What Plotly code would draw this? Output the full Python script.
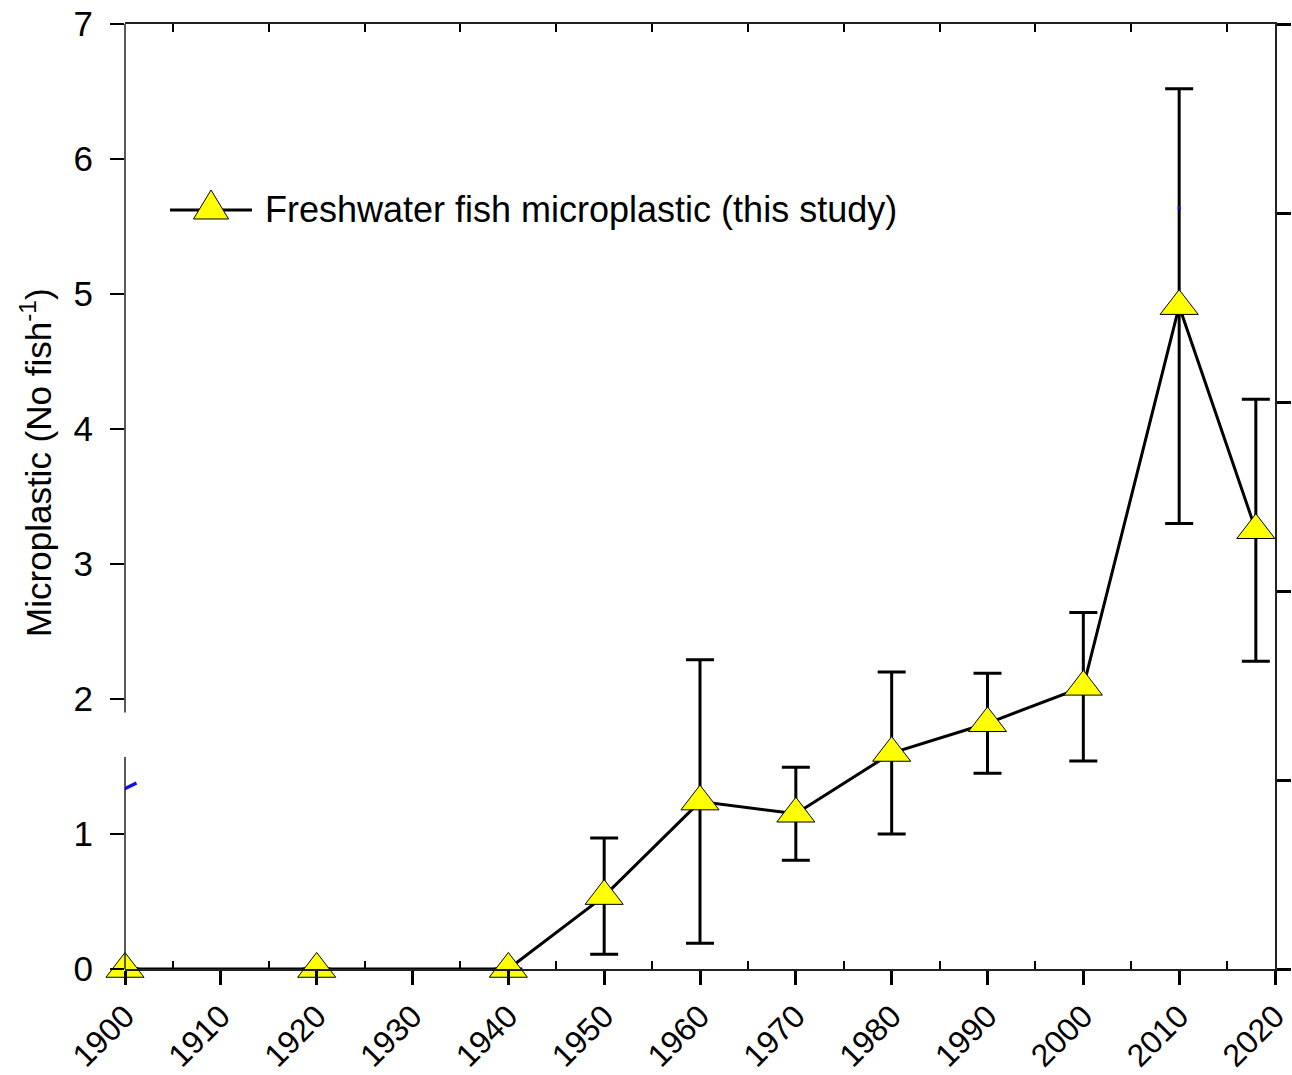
import plotly.graph_objects as go

# ---- data ----
years = [1900, 1920, 1940, 1950, 1960, 1970, 1980, 1990, 2000, 2010, 2018]
microplastic = [0, 0, 0, 0.54, 1.24, 1.15, 1.60, 1.82, 2.09, 4.91, 3.25]
error = [None, None, None, 0.43, 1.05, 0.345, 0.60, 0.37, 0.55, 1.61, 0.97]

x_ticks = list(range(1900, 2021, 10))
y_ticks = list(range(0, 8))

series_name = "Freshwater fish microplastic (this study)"
y_title = "Microplastic (No fish<sup>-1</sup>)"

# small blue stray marks visible in the original figure
stray_seg_x = [1899.7, 1901.2]
stray_seg_y = [1.326, 1.378]
stray_dot_x = [2010]
stray_dot_y = [5.64]

# left-axis break (value range where the left spine is interrupted)
axis_break = [1.57, 1.90]

FONT = "Arial, Liberation Sans, sans-serif"

fig = go.Figure()

fig.add_trace(go.Scatter(
    x=years, y=microplastic, mode="lines+markers", name=series_name,
    line=dict(color="black", width=3),
    marker=dict(symbol="triangle-up", size=33, color="#FFFF00",
                line=dict(color="black", width=1)),
    error_y=dict(type="data", array=error, visible=True, color="black",
                 thickness=3, width=14),
    cliponaxis=False, showlegend=False,
))

fig.add_trace(go.Scatter(
    x=stray_seg_x, y=stray_seg_y, mode="lines",
    line=dict(color="#1010ee", width=3.5), cliponaxis=False,
    showlegend=False, hoverinfo="skip"))
fig.add_trace(go.Scatter(
    x=stray_dot_x, y=stray_dot_y, mode="markers",
    marker=dict(color="#1010ee", size=3, symbol="square"), cliponaxis=False,
    showlegend=False, hoverinfo="skip"))

# dummy trace to activate the top / right mirror axes
fig.add_trace(go.Scatter(x=[x_ticks[0]], y=[0], xaxis="x2", yaxis="y2",
                         mode="markers", marker=dict(opacity=0),
                         showlegend=False, hoverinfo="skip"))

x_min, x_max = x_ticks[0], x_ticks[-1]
y_min, y_max = y_ticks[0], y_ticks[-1]

fig.update_layout(
    template="none",
    width=1292, height=1075,
    margin=dict(l=125, r=17, t=24, b=106, autoexpand=False),
    paper_bgcolor="white", plot_bgcolor="white",
    font=dict(family=FONT, size=34, color="black"),
    showlegend=False,
    xaxis=dict(
        range=[x_min, x_max], tickmode="array", tickvals=x_ticks,
        ticktext=[str(v) for v in x_ticks], tickangle=-45,
        ticks="outside", ticklen=14, tickwidth=2.5, tickcolor="black",
        showline=True, linecolor="#222", linewidth=1.5,
        showgrid=False, zeroline=False, automargin=False,
        tickfont=dict(size=32),
        minor=dict(tickmode="array",
                   tickvals=[v + 5 for v in x_ticks[:-1]],
                   ticks="inside", ticklen=8, tickwidth=1.5, tickcolor="black",
                   showgrid=False),
    ),
    xaxis2=dict(
        range=[x_min, x_max], overlaying="x", side="top", anchor="y",
        tickmode="array", tickvals=[v + 5 for v in x_ticks[:-1]],
        ticks="inside", ticklen=8, tickwidth=1.5, tickcolor="black",
        showticklabels=False, showline=True, linecolor="#222", linewidth=1.5,
        showgrid=False, zeroline=False, automargin=False,
    ),
    yaxis=dict(
        range=[y_min, y_max], tickmode="array", tickvals=y_ticks,
        ticks="outside", ticklen=14, tickwidth=1.5, tickcolor="black",
        showline=False, showgrid=False, zeroline=False, automargin=False,
        tickfont=dict(size=35), ticklabelstandoff=10,
    ),
    yaxis2=dict(
        range=[0, 5], overlaying="y", side="right", anchor="x",
        tickmode="linear", tick0=0, dtick=1,
        ticks="outside", ticklen=14, tickwidth=2.5, tickcolor="black",
        showticklabels=False, showline=True, linecolor="#222", linewidth=1.5,
        showgrid=False, zeroline=False, automargin=False,
    ),
)

# left spine with a break
fig.add_shape(type="line", xref="paper", yref="y", x0=0, x1=0,
              y0=y_min, y1=axis_break[0], line=dict(color="#222", width=1.5))
fig.add_shape(type="line", xref="paper", yref="y", x0=0, x1=0,
              y0=axis_break[1], y1=y_max, line=dict(color="#222", width=1.5))

# legend (drawn manually to keep the large symbol)
leg_y = 0.8032
fig.add_shape(type="line", xref="paper", yref="paper", x0=0.0391, x1=0.1104,
              y0=leg_y, y1=leg_y, line=dict(color="black", width=3))
fig.add_shape(type="path", xref="paper", yref="paper",
              xsizemode="pixel", ysizemode="pixel",
              xanchor=0.0748, yanchor=leg_y,
              path="M -17.5,-9 L 17.5,-9 L 0,20 Z",
              fillcolor="#FFFF00", line=dict(color="black", width=1))
fig.add_annotation(text=series_name, xref="paper", yref="paper",
                   x=0.12, y=leg_y, xanchor="left", yanchor="middle",
                   showarrow=False, font=dict(family=FONT, size=36, color="black"))

# y-axis title
fig.add_annotation(text=y_title, xref="paper", yref="paper",
                   x=-0.0775, y=0.5365, xanchor="center", yanchor="middle",
                   textangle=-90, showarrow=False,
                   font=dict(family=FONT, size=35, color="black"))

fig.write_html("out.html", config={"displayModeBar": False},
               post_script="document.body.style.margin='0';document.body.style.overflow='hidden';")
